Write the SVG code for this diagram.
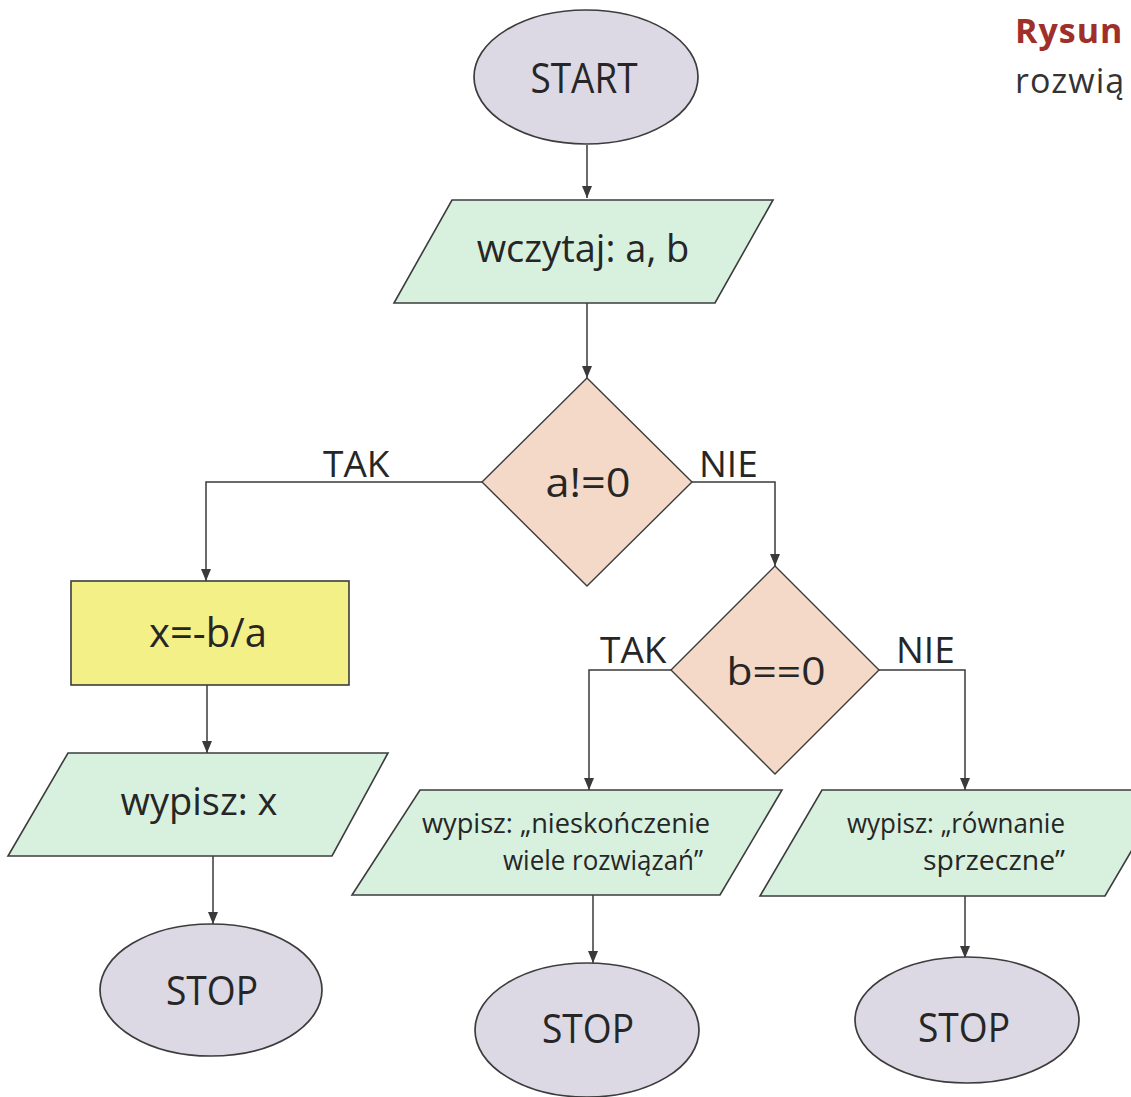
<svg xmlns="http://www.w3.org/2000/svg" width="1131" height="1097" viewBox="0 0 1131 1097">
<style>
text{font-family:"Open Sans","Noto Sans","Liberation Sans",sans-serif;fill:#262626}
.term{fill:#dcd8e4;stroke:#3c3c3c;stroke-width:1.7}
.io{fill:#d8f1df;stroke:#3c3c3c;stroke-width:1.6}
.dec{fill:#f4d9c8;stroke:#3c3c3c;stroke-width:1.4}
.proc{fill:#f4f088;stroke:#3c3c3c;stroke-width:1.6}
.big{font-size:38px;text-anchor:middle}
.small{font-size:27px}
.lbl{font-size:37px}
.conn path{fill:none;stroke:#3a3a3a;stroke-width:1.5}
.arr path{marker-end:url(#ah)}
</style>
<defs>
<marker id="ah" markerUnits="userSpaceOnUse" viewBox="0 0 12 10" refX="12" refY="5" markerWidth="12" markerHeight="10" orient="auto">
<path d="M0,0 L12,5 L0,10 z" fill="#3a3a3a"/>
</marker>
</defs>
<rect width="1131" height="1097" fill="#ffffff"/>
<g id="caption">
<text x="1015" y="43" style="font-size:34px;font-weight:bold;fill:#9e2f2a;letter-spacing:1px">Rysun</text>
<text x="1015" y="93" style="font-size:34px;fill:#333;letter-spacing:1px">rozwią</text>
</g>
<g class="conn">
<g class="arr">
<path d="M587,145 V198"/>
<path d="M587,303 V378"/>
<path d="M482,482 H206 V581"/>
<path d="M692,482 H775 V566"/>
<path d="M207,685 V753"/>
<path d="M671,670 H589 V790"/>
<path d="M879,670 H965 V790"/>
<path d="M213,856 V924"/>
<path d="M593,895 V963"/>
<path d="M965,896 V958"/>
</g>
<text class="lbl" x="323" y="477">TAK</text>
<text class="lbl" x="699" y="477">NIE</text>
<text class="lbl" x="600" y="663">TAK</text>
<text class="lbl" x="896" y="663">NIE</text>
</g>
<g id="start">
<ellipse class="term" cx="586" cy="77" rx="112" ry="67"/>
<text class="big" x="584" y="93" style="font-size:42px" textLength="107" lengthAdjust="spacingAndGlyphs">START</text>
</g>
<g id="read">
<polygon class="io" points="452,200 773,200 715,303 394,303"/>
<text class="big" x="583" y="262">wczytaj: a, b</text>
</g>
<g id="cond1">
<polygon class="dec" points="587,378 692,482 587,586 482,482"/>
<text class="big" x="588" y="497" style="font-size:40px" textLength="85" lengthAdjust="spacingAndGlyphs">a!=0</text>
</g>
<g id="calc">
<rect class="proc" x="71" y="581" width="278" height="104"/>
<text class="big" x="208" y="647" style="font-size:40px">x=-b/a</text>
</g>
<g id="printx">
<polygon class="io" points="68,753 388,753 332,856 8,856"/>
<text class="big" x="199" y="815">wypisz: x</text>
</g>
<g id="stop1">
<ellipse class="term" cx="211" cy="990" rx="111" ry="66"/>
<text class="big" x="212" y="1005" style="font-size:40px" textLength="92" lengthAdjust="spacingAndGlyphs">STOP</text>
</g>
<g id="cond2">
<polygon class="dec" points="775,566 879,670 775,774 671,670"/>
<text class="big" x="776" y="685" textLength="99" lengthAdjust="spacingAndGlyphs">b==0</text>
</g>
<g id="printinf">
<polygon class="io" points="420,790 782,790 720,895 352,895"/>
<text class="small" x="422" y="833" textLength="288" lengthAdjust="spacingAndGlyphs">wypisz: „nieskończenie</text>
<text class="small" x="503" y="870" textLength="200" lengthAdjust="spacingAndGlyphs">wiele rozwiązań”</text>
</g>
<g id="stop2">
<ellipse class="term" cx="587" cy="1030" rx="112" ry="67"/>
<text class="big" x="588" y="1043" style="font-size:40px" textLength="92" lengthAdjust="spacingAndGlyphs">STOP</text>
</g>
<g id="printcontra">
<polygon class="io" points="822,790 1167,790 1105,896 760,896"/>
<text class="small" x="847" y="833" textLength="218" lengthAdjust="spacingAndGlyphs">wypisz: „równanie</text>
<text class="small" x="923" y="870" textLength="142" lengthAdjust="spacingAndGlyphs">sprzeczne”</text>
</g>
<g id="stop3">
<ellipse class="term" cx="967" cy="1020" rx="112" ry="63"/>
<text class="big" x="964" y="1042" style="font-size:40px" textLength="92" lengthAdjust="spacingAndGlyphs">STOP</text>
</g>
</svg>
